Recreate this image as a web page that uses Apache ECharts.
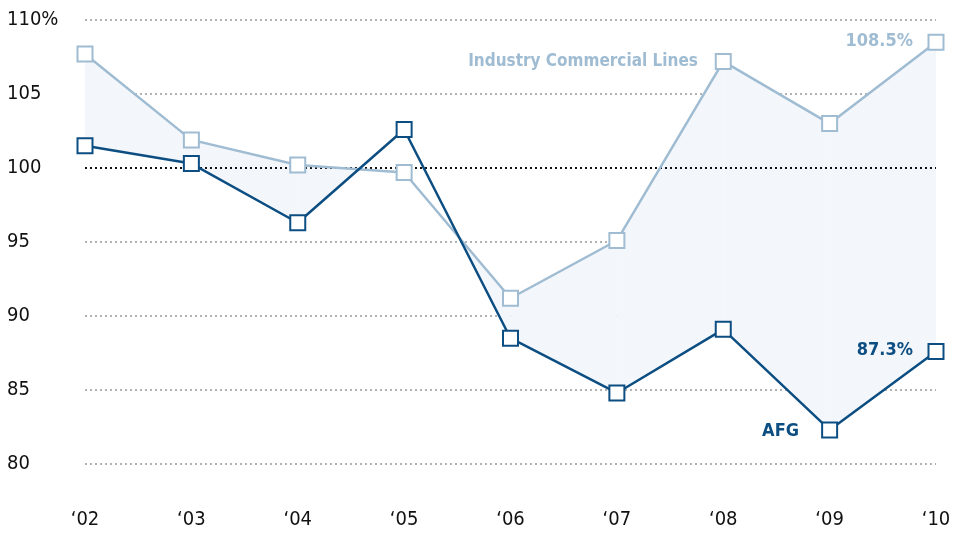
<!DOCTYPE html>
<html>
<head>
<meta charset="utf-8">
<script src="https://cdn.jsdelivr.net/npm/echarts@6/dist/echarts.min.js"></script>
<style>
html,body{margin:0;padding:0;background:#fff;}
#c{width:954px;height:534px;}
</style>
</head>
<body>
<div id="c"></div>
<script>
var categories = ['\u201802','\u201803','\u201804','\u201805','\u201806','\u201807','\u201808','\u201809','\u201810'];
var industry = [107.7, 101.9, 100.2, 99.7, 91.2, 95.1, 107.2, 103.0, 108.5];
var afg = [101.5, 100.3, 96.3, 102.6, 88.5, 84.8, 89.1, 82.3, 87.6];
var yTicks = [80, 85, 90, 95, 100, 105, 110];
var segIdx = [0,1,2,3,4,5,6,7];

var FONT = '"DejaVu Sans Condensed","Liberation Sans Narrow",sans-serif';
var C_IND = '#9fbcd2';
var C_AFG = '#0d4e82';
var C_FILL = '#f3f7fb';

var chart = echarts.init(document.getElementById('c'));

function renderFill(params, api) {
  var i = api.value(0);
  var p0i = api.coord([i, industry[i]]);
  var p1i = api.coord([i+1, industry[i+1]]);
  var p0a = api.coord([i, afg[i]]);
  var p1a = api.coord([i+1, afg[i+1]]);
  var d0 = p0a[1] - p0i[1];
  var d1 = p1a[1] - p1i[1];
  var pts;
  if (d0 >= 0 && d1 >= 0) {
    pts = [p0i, p1i, p1a, p0a];
  } else if (d0 <= 0 && d1 <= 0) {
    return null;
  } else {
    var t = d0 / (d0 - d1);
    var cx = p0i[0] + t * (p1i[0] - p0i[0]);
    var cy = p0i[1] + t * (p1i[1] - p0i[1]);
    if (d0 > 0) pts = [p0i, [cx, cy], p0a];
    else pts = [[cx, cy], p1i, p1a];
  }
  return {type: 'polygon', shape: {points: pts}, style: {fill: C_FILL, stroke: null}, silent: true};
}

var option = {
  animation: false,
  backgroundColor: '#fff',
  grid: {left: 85, right: 18, top: 20, bottom: 70},
  xAxis: {
    type: 'category',
    data: categories,
    boundaryGap: false,
    axisLine: {show: false},
    axisTick: {show: false},
    axisLabel: {color: '#111', fontFamily: FONT, fontSize: 20, margin: 46}
  },
  yAxis: {
    type: 'value',
    min: 80, max: 110, interval: 5,
    axisLine: {show: false},
    axisTick: {show: false},
    axisLabel: {
      color: '#111', fontFamily: FONT, fontSize: 20, align: 'left', margin: 78,
      formatter: function (v) { return v === yTicks[yTicks.length-1] ? v + '%' : String(v); }
    },
    splitLine: {show: true, lineStyle: {color: '#999999', type: [2, 3], width: 1.5}}
  },
  series: [
    {
      type: 'custom',
      data: segIdx,
      renderItem: renderFill,
      z: 1,
      silent: true,
      encode: {x: 0}
    },
    {
      type: 'line',
      data: industry,
      z: 3,
      symbol: 'rect',
      symbolSize: 15,
      showAllSymbol: true,
      lineStyle: {color: C_IND, width: 2.5},
      itemStyle: {color: '#fff', borderColor: C_IND, borderWidth: 2},
      markLine: {
        silent: true,
        symbol: 'none',
        label: {show: false},
        lineStyle: {color: '#111', type: [2, 3], width: 2},
        data: [{yAxis: 100}],
        z: 2
      }
    },
    {
      type: 'line',
      data: afg,
      z: 4,
      symbol: 'rect',
      symbolSize: 15,
      showAllSymbol: true,
      lineStyle: {color: C_AFG, width: 2.5},
      itemStyle: {color: '#fff', borderColor: C_AFG, borderWidth: 2}
    }
  ],
  graphic: [
    {type: 'text', id: 't1', z: 100, style: {x: 583, y: 62, text: 'Industry Commercial Lines', fill: C_IND, font: 'bold 17px ' + FONT, textAlign: 'center', textVerticalAlign: 'middle'}},
    {type: 'text', id: 't2', z: 100, style: {x: 913, y: 41, text: '108.5%', fill: C_IND, font: 'bold 18px ' + FONT, textAlign: 'right', textVerticalAlign: 'middle'}},
    {type: 'text', id: 't3', z: 100, style: {x: 913, y: 350, text: '87.3%', fill: C_AFG, font: 'bold 18px ' + FONT, textAlign: 'right', textVerticalAlign: 'middle'}},
    {type: 'text', id: 't4', z: 100, style: {x: 799, y: 431, text: 'AFG', fill: C_AFG, font: 'bold 18px ' + FONT, textAlign: 'right', textVerticalAlign: 'middle'}}
  ]
};
chart.setOption(option);
</script>
</body>
</html>
